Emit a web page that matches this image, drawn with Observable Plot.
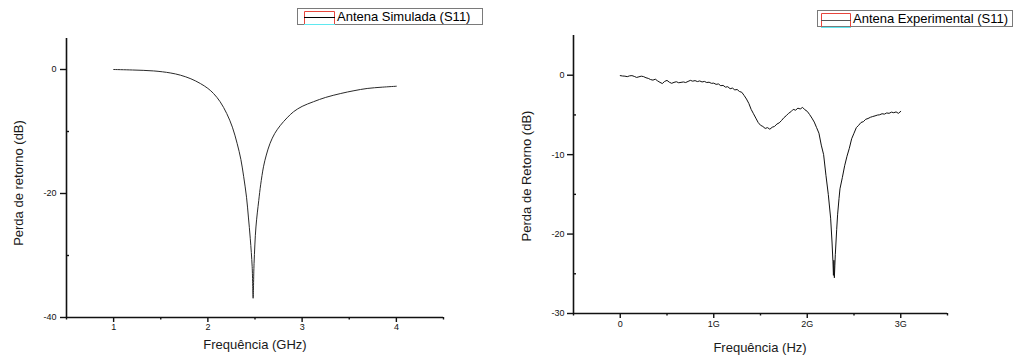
<!DOCTYPE html>
<html>
<head>
<meta charset="utf-8">
<script src="https://cdn.jsdelivr.net/npm/d3@7"></script>
<script src="https://cdn.jsdelivr.net/npm/@observablehq/plot@0.6"></script>
<style>
  html, body { margin: 0; padding: 0; background: #fff; }
  #wrap { position: relative; width: 1018px; height: 358px; overflow: hidden; background: #fff;
          font-family: "Liberation Sans", Arial, sans-serif; color: #111; }
  .panel { position: absolute; top: 0; }
  .title { position: absolute; font-size: 13px; white-space: nowrap; line-height: 1; color: #1a1a1a; }
  .ytitle { transform: translate(-50%, -50%) rotate(-90deg); }
  .xtitle { transform: translate(-50%, -50%); }
  .legend { position: absolute; box-sizing: border-box; border: 1px solid #7a7a7a; background: #fff; }
  .legend svg { position: absolute; }
  .legend span { position: absolute; font-size: 13px; line-height: 15px; top: 0; white-space: nowrap; color: #000; }
</style>
</head>
<body>
<div id="wrap">
  <div class="panel" id="left" style="left:0px"></div>
  <div class="panel" id="right" style="left:490px"></div>

  <div class="title ytitle" style="left:17.5px; top:183px">Perda de retorno (dB)</div>
  <div class="title xtitle" style="left:255px; top:344px">Frequência (GHz)</div>
  <div class="title ytitle" style="left:526px; top:176px">Perda de Retorno (dB)</div>
  <div class="title xtitle" style="left:760px; top:347px">Frequência (Hz)</div>

  <div class="legend" style="left:297px; top:8px; width:186px; height:17px">
    <svg style="left:6px; top:2px" width="31" height="14">
      <path d="M0.5,13 V0.5 H30.5 V13" fill="none" stroke="#e8453c" stroke-width="1"/>
      <line x1="0" x2="31" y1="6.5" y2="6.5" stroke="#000" stroke-width="1"/>
      <line x1="0" x2="31" y1="13.5" y2="13.5" stroke="#5fe8f0" stroke-width="1"/>
    </svg>
    <span style="left:39px">Antena Simulada (S11)</span>
  </div>
  <div class="legend" style="left:817px; top:10px; width:196px; height:17px">
    <svg style="left:3px; top:1.5px" width="31" height="15">
      <path d="M0.5,14 V0.5 H29.5 V14" fill="none" stroke="#e8453c" stroke-width="1"/>
      <line x1="0" x2="30" y1="7.5" y2="7.5" stroke="#555" stroke-width="1"/>
      <line x1="0" x2="30" y1="14.5" y2="14.5" stroke="#5fe8f0" stroke-width="1"/>
    </svg>
    <span style="left:35px">Antena Experimental (S11)</span>
  </div>
</div>
<script>
// Simulated S11 of the antenna (frequency in GHz, return loss in dB)
const simFreqGHz = [1.0, 1.2, 1.425, 1.6, 1.71, 1.82, 1.92, 2.0, 2.06, 2.13, 2.20, 2.26, 2.31, 2.35, 2.38, 2.41,
  2.43, 2.45, 2.47, 2.48, 2.49, 2.51, 2.54, 2.56, 2.59, 2.62, 2.66, 2.71, 2.77, 2.84, 2.91, 3.0, 3.12,
  3.25, 3.41, 3.55, 3.69, 3.85, 4.0];
const simS11 = [0, -0.08, -0.23, -0.55, -0.92, -1.5, -2.26, -3.05, -3.87, -5.2, -7.1, -9.3, -11.9, -14.5, -17.3, -20.6,
  -23.8, -27.3, -31.8, -36.9, -31.3, -25.4, -21.1, -18.6, -15.7, -13.8, -11.9, -10.3, -9.0, -7.8, -6.8, -5.95, -5.2,
  -4.5, -3.87, -3.42, -3.06, -2.85, -2.7];

// Measured S11 (frequency in GHz, return loss in dB)
const expFreqGHz = [0.000, 0.025, 0.050, 0.075, 0.100, 0.125, 0.150, 0.175, 0.200, 0.225, 0.250, 0.275,
  0.300, 0.325, 0.350, 0.375, 0.400, 0.425, 0.450, 0.475, 0.500, 0.525, 0.550, 0.575, 0.600, 0.625,
  0.650, 0.675, 0.700, 0.725, 0.750, 0.775, 0.800, 0.825, 0.850, 0.875, 0.900, 0.925, 0.950, 0.975,
  1.000, 1.025, 1.050, 1.075, 1.100, 1.125, 1.150, 1.175, 1.200, 1.225, 1.250, 1.275, 1.300, 1.325,
  1.350, 1.375, 1.400, 1.425, 1.450, 1.475, 1.500, 1.525, 1.550, 1.575, 1.600, 1.625, 1.650, 1.675,
  1.700, 1.725, 1.750, 1.775, 1.800, 1.825, 1.850, 1.875, 1.900, 1.925, 1.950, 1.975, 2.000, 2.025,
  2.050, 2.075, 2.100, 2.125, 2.150, 2.175, 2.200, 2.225, 2.250, 2.265, 2.275, 2.280, 2.285, 2.290,
  2.295, 2.300, 2.315, 2.325, 2.340, 2.350, 2.375, 2.400, 2.425, 2.450, 2.475, 2.500, 2.525, 2.550,
  2.575, 2.600, 2.625, 2.650, 2.675, 2.700, 2.725, 2.750, 2.775, 2.800, 2.825, 2.850, 2.875, 2.900,
  2.925, 2.950, 2.975, 3.000];
const expS11 = [-0.05, -0.10, -0.12, -0.18, -0.08, -0.05, -0.15, -0.28, -0.20, -0.12, -0.18, -0.32,
  -0.40, -0.55, -0.62, -0.50, -0.72, -0.90, -1.05, -0.78, -0.65, -0.88, -1.02, -0.90, -0.82, -0.95,
  -0.90, -0.85, -0.92, -0.78, -0.65, -0.75, -0.68, -0.80, -0.72, -0.85, -0.78, -0.92, -0.88, -1.02,
  -1.00, -1.15, -1.10, -1.32, -1.28, -1.50, -1.45, -1.70, -1.62, -1.85, -1.80, -2.05, -2.15, -2.55,
  -3.00, -3.55, -4.30, -4.85, -5.40, -5.95, -6.30, -6.45, -6.70, -6.60, -6.80, -6.55, -6.45, -6.15,
  -6.00, -5.70, -5.35, -5.10, -4.80, -4.60, -4.30, -4.40, -4.15, -4.25, -4.05, -4.35, -4.55, -4.95,
  -5.40, -5.90, -6.60, -7.30, -8.80, -10.0, -12.6, -15.0, -18.0, -21.0, -23.5, -25.2, -23.3, -25.5,
  -24.0, -22.6, -19.4, -17.5, -15.5, -14.3, -12.9, -11.4, -10.2, -9.2, -8.0, -7.3, -6.6, -6.3,
  -5.95, -5.85, -5.55, -5.45, -5.30, -5.20, -5.12, -5.02, -4.98, -4.85, -4.90, -4.75, -4.80, -4.65,
  -4.72, -4.62, -4.80, -4.55];

// Axis ticks
const simXTicks = [1, 2, 3, 4];
const simXMinor = [0.5, 1.5, 2.5, 3.5, 4.5];
const simYTicks = [0, -20, -40];
const simYMinor = [-10, -30];
const expXTicks = [0, 1e9, 2e9, 3e9];
const expXMinor = [-0.5e9, 0.5e9, 1.5e9, 2.5e9, 3.5e9];
const expYTicks = [0, -10, -20, -30];
const expYMinor = [-5, -15, -25];

const simData = simFreqGHz.map((f, i) => ({f, s11: simS11[i]}));
const expData = expFreqGHz.map((f, i) => ({f: f * 1e9, s11: expS11[i]}));

const plotStyle = {fontFamily: "'Liberation Sans', Arial, sans-serif", fontSize: "9px", color: "#111", background: "transparent", overflow: "visible"};
const plain = d => String(d);

const leftChart = Plot.plot({
  width: 490, height: 358,
  marginLeft: 66, marginRight: 47, marginTop: 38, marginBottom: 41,
  x: {domain: [0.5, 4.5]},
  y: {domain: [-40, 5]},
  style: plotStyle,
  marks: [
    Plot.axisX({ticks: simXTicks, tickSize: 5, tickPadding: 1, tickFormat: plain, label: null, strokeWidth: 1.4}),
    Plot.axisX({ticks: simXMinor, tickSize: 2.5, text: null, label: null, strokeWidth: 1.4}),
    Plot.axisY({ticks: simYTicks, tickSize: 6, tickPadding: 4, tickFormat: plain, label: null, strokeWidth: 1.4}),
    Plot.axisY({ticks: simYMinor, tickSize: -3, text: null, label: null, strokeWidth: 1.4}),
    Plot.ruleX([0.5], {strokeWidth: 1.6}),
    Plot.ruleY([-40], {strokeWidth: 1.6}),
    Plot.line(simData, {x: "f", y: "s11", curve: "catmull-rom", stroke: "#2a2a2a", strokeWidth: 1})
  ]
});

const rightChart = Plot.plot({
  width: 528, height: 358,
  marginLeft: 83, marginRight: 71, marginTop: 35, marginBottom: 45,
  x: {domain: [-0.5e9, 3.5e9]},
  y: {domain: [-30, 5]},
  style: plotStyle,
  marks: [
    Plot.axisX({ticks: expXTicks, tickSize: 5, tickPadding: 2, tickFormat: d => d === 0 ? "0" : (d / 1e9) + "G", label: null, strokeWidth: 1.4}),
    Plot.axisX({ticks: expXMinor, tickSize: 2.5, text: null, label: null, strokeWidth: 1.4}),
    Plot.axisY({ticks: expYTicks, tickSize: 6, tickPadding: 3, tickFormat: plain, label: null, strokeWidth: 1.4}),
    Plot.axisY({ticks: expYMinor, tickSize: -3, text: null, label: null, strokeWidth: 1.4}),
    Plot.ruleX([-0.5e9], {strokeWidth: 1.6}),
    Plot.ruleY([-30], {strokeWidth: 1.6}),
    Plot.line(expData, {x: "f", y: "s11", stroke: "#111", strokeWidth: 1})
  ]
});

document.getElementById("left").append(leftChart);
document.getElementById("right").append(rightChart);
</script>
</body>
</html>
